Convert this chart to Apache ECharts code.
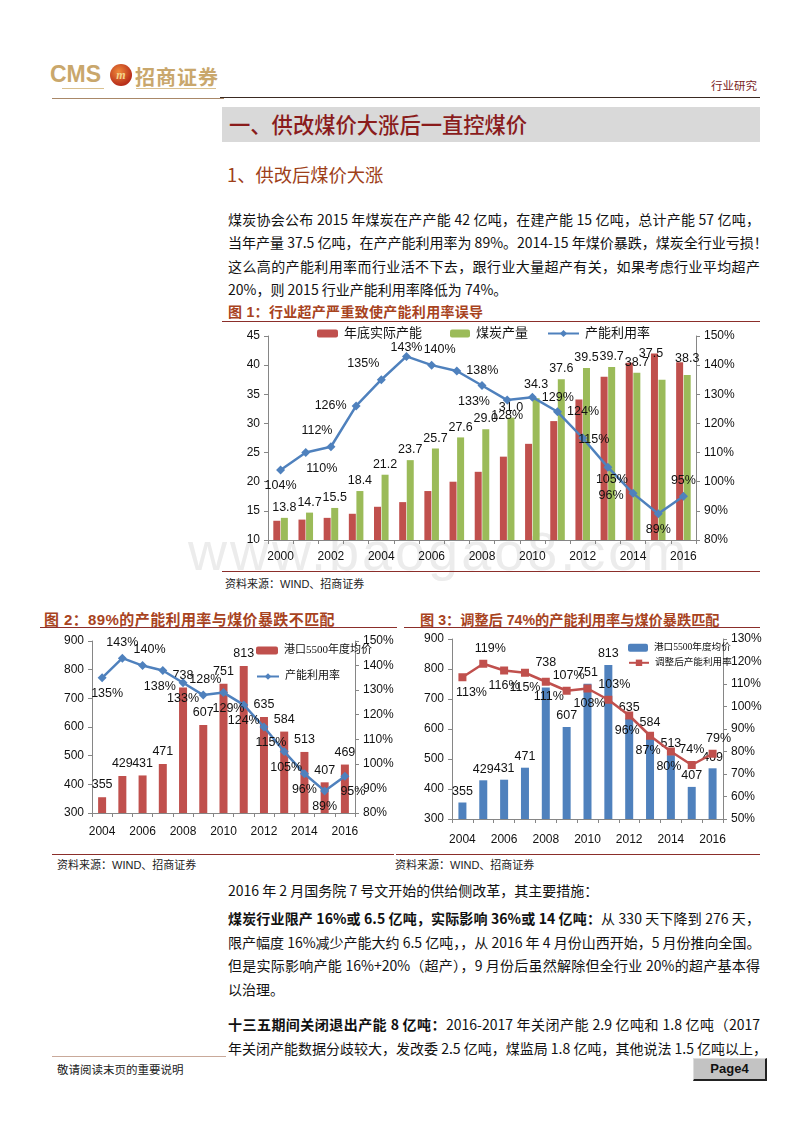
<!DOCTYPE html>
<html><head><meta charset="utf-8">
<script src="https://cdn.jsdelivr.net/npm/echarts@6/dist/echarts.min.js"></script>
<style>
body{margin:0;width:800px;height:1132px;position:relative;background:#fff;font-family:"Noto Sans CJK SC",sans-serif;overflow:hidden}
.a{position:absolute}
.ln{position:absolute;left:228px;width:532px;font-size:14px;line-height:20px;height:20px;white-space:nowrap;color:#111;font-family:"Liberation Sans Narrow","Noto Sans CJK SC",sans-serif;text-align:justify;text-align-last:justify}
.ln.l{text-align:left;text-align-last:left}
.ft{position:absolute;font-size:14px;font-weight:bold;color:#a8431e;white-space:nowrap;font-family:"Liberation Sans","Noto Sans CJK SC",sans-serif}
.src{position:absolute;font-size:11px;color:#222;white-space:nowrap;font-family:"Liberation Sans","Noto Sans CJK SC",sans-serif}
.hr{position:absolute;height:0}
</style></head><body>
<!-- header -->
<div class="a" style="left:50px;top:61px;font:bold 23px 'Liberation Sans',sans-serif;color:#c9a76c">CMS</div>
<div class="a" style="left:110px;top:64px;width:22px;height:22px;border-radius:50%;background:radial-gradient(circle at 40% 35%,#f08a3a,#b82e1a 70%);color:#f5d48a;font:bold italic 12px 'Liberation Serif',serif;text-align:center;line-height:22px">m</div>
<div class="a" style="left:135px;top:62px;font:bold 20px 'Noto Sans CJK SC',sans-serif;color:#c9a76c;letter-spacing:1px">招商证券</div>
<div class="hr" style="left:62px;top:88px;width:42px;border-top:1px solid #d9c08f"></div>
<div class="hr" style="left:136px;top:88px;width:80px;border-top:1px solid #d9c08f"></div>
<div class="hr" style="left:52px;top:98px;width:172px;border-top:1px solid #a98868"></div>
<div class="hr" style="left:220px;top:97px;width:540px;border-top:1.5px solid #3a2a22"></div>
<div class="a" style="left:711px;top:77px;font-size:11.5px;color:#7a1e1e">行业研究</div>

<div class="a" style="left:222px;top:107px;width:538px;height:35px;background:#d9d9d9"></div>
<div class="a" style="left:229px;top:109px;font-size:21.3px;line-height:30px;color:#8a1c1c;font-weight:500">一、供改煤价大涨后一直控煤价</div>
<div class="a" style="left:227px;top:160px;font-size:18.3px;line-height:28px;color:#9e3f19">1、供改后煤价大涨</div>

<div class="ln" style="top:209px">煤炭协会公布 2015 年煤炭在产产能 42 亿吨，在建产能 15 亿吨，总计产能 57 亿吨，</div>
<div class="ln" style="top:232px">当年产量 37.5 亿吨，在产产能利用率为 89%。2014-15 年煤价暴跌，煤炭全行业亏损！</div>
<div class="ln" style="top:256px">这么高的产能利用率而行业活不下去，跟行业大量超产有关，如果考虑行业平均超产</div>
<div class="ln l" style="top:279px">20%，则 2015 行业产能利用率降低为 74%。</div>

<div class="ft" style="left:228px;top:301px;letter-spacing:0.3px">图 1：行业超产严重致使产能利用率误导</div>
<div class="hr" style="left:222px;top:321px;width:538px;border-top:1.5px solid #8b2e2a"></div>

<div class="a" style="left:188px;top:520px;font:54px 'Liberation Sans',sans-serif;color:#ececec;letter-spacing:3px;white-space:nowrap">www.baogao8.com</div>
<div id="c1" class="a" style="left:220px;top:322px;width:540px;height:248px"></div>
<div class="hr" style="left:222px;top:571px;width:538px;border-top:1px solid #8b2e2a"></div>
<div class="src" style="left:225px;top:575px">资料来源：WIND、招商证券</div>

<div class="ft" style="left:44px;top:608px;font-size:15px;letter-spacing:0.4px">图 2：89%的产能利用率与煤价暴跌不匹配</div>
<div class="hr" style="left:40px;top:627px;width:357px;border-top:1.5px solid #8b2e2a"></div>
<div class="ft" style="left:420px;top:609px;font-size:14.2px">图 3：调整后 74%的产能利用率与煤价暴跌匹配</div>
<div class="hr" style="left:404px;top:627px;width:356px;border-top:1.5px solid #8b2e2a"></div>

<div id="c2" class="a" style="left:40px;top:630px;width:360px;height:222px"></div>
<div id="c3" class="a" style="left:405px;top:630px;width:360px;height:222px"></div>
<div class="hr" style="left:52px;top:854px;width:342px;border-top:1px solid #8b2e2a"></div>
<div class="hr" style="left:396px;top:854px;width:364px;border-top:1px solid #8b2e2a"></div>
<div class="src" style="left:57px;top:856px">资料来源：WIND、招商证券</div>
<div class="src" style="left:395px;top:856px">资料来源：WIND、招商证券</div>

<div class="ln l" style="top:880px">2016 年 2 月国务院 7 号文开始的供给侧改革，其主要措施：</div>
<div class="ln" style="top:908px"><b>煤炭行业限产 16%或 6.5 亿吨，实际影响 36%或 14 亿吨：</b>从 330 天下降到 276 天，</div>
<div class="ln" style="top:932px">限产幅度 16%减少产能大约 6.5 亿吨，，从 2016 年 4 月份山西开始，5 月份推向全国。</div>
<div class="ln" style="top:955px">但是实际影响产能 16%+20%（超产），9 月份后虽然解除但全行业 20%的超产基本得</div>
<div class="ln l" style="top:979px">以治理。</div>
<div class="ln" style="top:1014px"><b>十三五期间关闭退出产能 8 亿吨：</b>2016-2017 年关闭产能 2.9 亿吨和 1.8 亿吨（2017</div>
<div class="ln" style="top:1038px">年关闭产能数据分歧较大，发改委 2.5 亿吨，煤监局 1.8 亿吨，其他说法 1.5 亿吨以上，</div>

<div class="hr" style="left:52px;top:1056px;width:174px;border-top:1.5px solid #c9a99a"></div>
<div class="a" style="left:57px;top:1061px;font-size:11.5px;color:#222">敬请阅读末页的重要说明</div>
<div class="a" style="left:693px;top:1058px;width:71px;height:20px;background:#c3c3c3;border-right:2px solid #222;border-bottom:2px solid #222;border-top:1px solid #ddd;border-left:1px solid #ddd;font:bold 13px 'Liberation Sans',sans-serif;text-align:center;line-height:20px;color:#111">Page4</div>

<script>
// ---------- data ----------
const years1 = ['2000','2001','2002','2003','2004','2005','2006','2007','2008','2009','2010','2011','2012','2013','2014','2015','2016'];
const capacity1 = [13.3,13.5,13.8,14.5,15.7,16.5,18.4,20.0,21.7,24.3,26.5,30.4,34.1,38.0,40.4,42.0,40.5];
const output1 = [13.8,14.7,15.5,18.4,21.2,23.7,25.7,27.6,29.0,31.0,34.3,37.6,39.5,39.7,38.7,37.5,38.3];
const util1 = [104,110,112,126,135,143,140,138,133,128,129,124,115,105,96,89,95];

const years2 = ['2004','2005','2006','2007','2008','2009','2010','2011','2012','2013','2014','2015','2016'];
const price2 = [355,429,431,471,738,607,751,813,635,584,513,407,469];
const util2 = [135,143,140,138,133,128,129,124,115,105,96,89,95];
const adjUtil3 = [113,119,116,115,111,107,108,103,96,87,80,74,79];

// ---------- label placement (style) ----------
const pos1 = ['bottom','bottom','top','left','top','top','top','right','bottom','bottom','right','right','right','bottom','left','bottom','top'];
const off1 = [[0,0],[16,0],[-14,0],[0,0],[-18,0],[0,7],[8,0],[0,0],[-8,0],[0,0],[0,0],[0,0],[-14,2],[4,-3],[0,2],[0,0],[0,0]];
const offBar1 = [[0,0],[0,0],[0,0],[0,0],[0,0],[0,0],[0,0],[0,0],[0,0],[0,0],[0,-4],[0,0],[0,0],[0,0],[0,0],[-11,-16],[0,-6]];
const pos2 = ['bottom','top','top','bottom','bottom','top','bottom','bottom','bottom','bottom','bottom','bottom','bottom'];
const off2 = [[5,0],[0,0],[7,0],[-3,0],[0,0],[2,0],[5,0],[0,0],[7,0],[2,0],[0,0],[0,0],[8,0]];
const offBar2 = [[0,0],[0,0],[0,0],[0,0],[0,0],[0,0],[0,0],[0,0],[0,0],[0,0],[0,0],[0,0],[0,0]];
const pos3 = ['bottom','top','bottom','bottom','bottom','top','bottom','top','bottom','bottom','bottom','top','top'];
const off3 = [[9,0],[7,0],[0,0],[0,0],[3,0],[2,0],[2,0],[6,0],[-2,0],[-2,0],[-2,0],[0,0],[6,0]];
const offBar3 = [[0,0],[0,0],[0,0],[0,0],[0,-14],[0,0],[0,0],[0,0],[0,0],[0,0],[0,0],[0,0],[0,0]];

const RED='#c0504d', GREEN='#9bbb59', BLUE='#4f81bd';
const FONT='"Liberation Sans","Noto Sans CJK SC",sans-serif';
const SERIF='"Liberation Serif","Noto Sans CJK SC",serif';
const axisLine={show:true,lineStyle:{color:'#868686',width:1}};
const axisTick={show:true,length:4,lineStyle:{color:'#868686'}};
function yAxis(min,max,interval,pct,fs){
  return {type:'value',min:min,max:max,interval:interval,axisLine:axisLine,axisTick:axisTick,splitLine:{show:false},
    axisLabel:{color:'#111',fontSize:fs,fontFamily:FONT,margin:8,formatter:pct?'{value}%':'{value}'}};
}
function xAxis(cats,fs,margin){
  return {type:'category',data:cats,axisLine:axisLine,axisTick:{show:true,length:4,interval:0,lineStyle:{color:'#868686'}},
    axisLabel:{interval:1,color:'#111',fontSize:fs,fontFamily:FONT,margin:margin}};
}
function legendItem(name,left,top,w,h,fs,ff){
  return {data:[name],left:left,top:top,itemWidth:w,itemHeight:h,padding:0,itemGap:0,
    textStyle:{fontSize:fs,color:'#111',fontFamily:ff||FONT,padding:[0,0,0,1]}};
}

// ---------- chart 1 ----------
const c1 = echarts.init(document.getElementById('c1'));
c1.setOption({
  animation:false,
  grid:{left:48,right:64,top:14,bottom:30},
  legend:[legendItem('年底实际产能',97,5,21,8,13),legendItem('煤炭产量',230,5,20,8,13),legendItem('产能利用率',327,5,31,9,13)],
  xAxis:xAxis(years1,12,11),
  yAxis:[yAxis(10,45,5,false,12),yAxis(80,150,10,true,12)],
  series:[
    {name:'年底实际产能',type:'bar',data:capacity1,barWidth:7,barGap:'8%',itemStyle:{color:RED}},
    {name:'煤炭产量',type:'bar',data:output1.map((v,i)=>({value:v,label:{offset:offBar1[i]}})),barWidth:7,itemStyle:{color:GREEN},
      label:{show:true,position:'top',distance:4,fontSize:12.5,color:'#111',fontFamily:FONT,formatter:p=>p.value.toFixed(1)}},
    {name:'产能利用率',type:'line',yAxisIndex:1,data:util1.map((v,i)=>({value:v,label:{position:pos1[i],offset:off1[i]}})),
      symbol:'diamond',symbolSize:9,lineStyle:{color:BLUE,width:2.5},itemStyle:{color:BLUE},z:5,
      label:{show:true,fontSize:12.5,color:'#111',fontFamily:FONT,distance:5,formatter:'{c}%'}}
  ]
});

// ---------- chart 2 ----------
const c2 = echarts.init(document.getElementById('c2'));
c2.setOption({
  animation:false,
  grid:{left:52,right:45,top:11,bottom:39},
  legend:[legendItem('港口5500年度均价',216,15,22,8,11,SERIF),legendItem('产能利用率',216,41,22,8,11,SERIF)],
  xAxis:xAxis(years2,12,13),
  yAxis:[yAxis(300,900,100,false,12),yAxis(80,150,10,true,12)],
  series:[
    {name:'港口5500年度均价',type:'bar',data:price2.map((v,i)=>({value:v,label:{offset:offBar2[i]}})),barWidth:8,itemStyle:{color:RED},
      label:{show:true,position:'top',distance:6,fontSize:12.5,color:'#111',fontFamily:FONT}},
    {name:'产能利用率',type:'line',yAxisIndex:1,data:util2.map((v,i)=>({value:v,label:{position:pos2[i],offset:off2[i]}})),
      symbol:'diamond',symbolSize:9,lineStyle:{color:BLUE,width:2.5},itemStyle:{color:BLUE},z:5,
      label:{show:true,fontSize:12.5,color:'#111',fontFamily:FONT,distance:5,formatter:'{c}%'}}
  ]
});

// ---------- chart 3 ----------
const c3 = echarts.init(document.getElementById('c3'));
c3.setOption({
  animation:false,
  grid:{left:47,right:42,top:9,bottom:33},
  legend:[legendItem('港口5500年度均价',223,13,20,8,9.6,SERIF),legendItem('调整后产能利用率',223,28,20,8,9.6,SERIF)],
  xAxis:xAxis(years2,12,15),
  yAxis:[yAxis(300,900,100,false,12),yAxis(50,130,10,true,12)],
  series:[
    {name:'港口5500年度均价',type:'bar',data:price2.map((v,i)=>({value:v,label:{offset:offBar3[i]}})),barWidth:8,itemStyle:{color:BLUE},
      label:{show:true,position:'top',distance:5,fontSize:12.5,color:'#111',fontFamily:FONT}},
    {name:'调整后产能利用率',type:'line',yAxisIndex:1,data:adjUtil3.map((v,i)=>({value:v,label:{position:pos3[i],offset:off3[i]}})),
      symbol:'rect',symbolSize:8,lineStyle:{color:RED,width:2.5},itemStyle:{color:RED},z:5,
      label:{show:true,fontSize:12.5,color:'#111',fontFamily:FONT,distance:5,formatter:'{c}%'}}
  ]
});
</script>
</body></html>
